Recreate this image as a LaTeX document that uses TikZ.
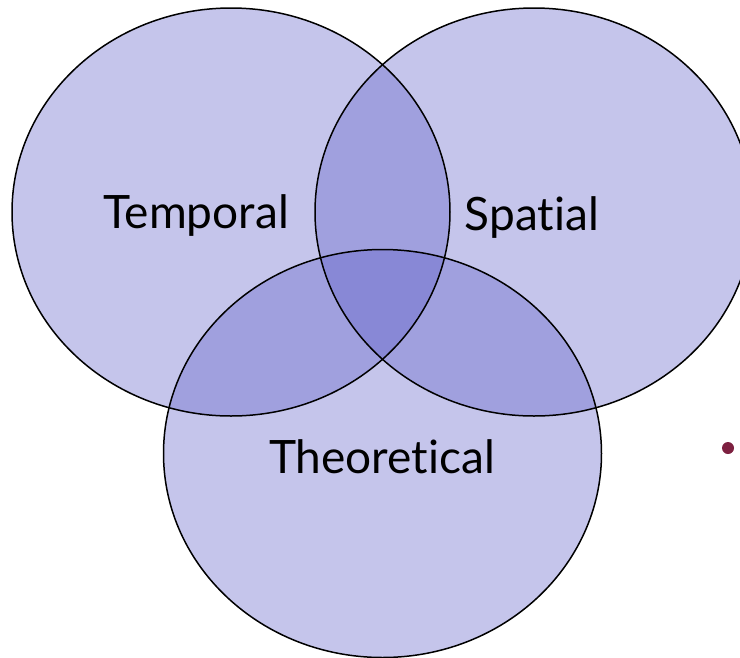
\documentclass[tikz,border=0pt]{standalone}
\usepackage{fontspec}
\setmainfont{Lato}[Ligatures={NoCommon,NoRare,NoContextual}]
\usetikzlibrary{shapes.geometric}
\definecolor{vennfill}{RGB}{95,95,200}
\definecolor{dotcol}{RGB}{125,32,64}
\tikzset{
  venn/.style={ellipse, draw=none, fill=vennfill, fill opacity=0.36,
    minimum width=438pt, minimum height=408pt, inner sep=0pt},
  vennline/.style={ellipse, draw=black, line width=1.5pt,
    minimum width=438pt, minimum height=408pt, inner sep=0pt},
  lbl/.style={font=\fontsize{46}{50}\selectfont, text=black, inner sep=0pt, anchor=base}
}
\begin{document}
\begin{tikzpicture}[x=1pt,y=-1pt]
\useasboundingbox (0,0) rectangle (740,657);
\clip (0,0) rectangle (740,657);
\node[venn] (temporal) at (231,212) {};
\node[venn] (spatial) at (534,212) {};
\node[venn] (theoretical) at (382.5,453.5) {};
\node[vennline] (temporalL) at (231,212) {};
\node[vennline] (spatialL) at (534,212) {};
\node[vennline] (theoreticalL) at (382.5,453.5) {};
\node[lbl] (ttemp) at (196,228) {Temporal};
\node[lbl] (tspat) at (532,230) {Spatial};
\node[lbl] (ttheo) at (382,473) {Theoretical};
\node[circle, fill=dotcol, minimum size=12pt, inner sep=0pt] (dot) at (728,448) {};
\end{tikzpicture}
\end{document}
